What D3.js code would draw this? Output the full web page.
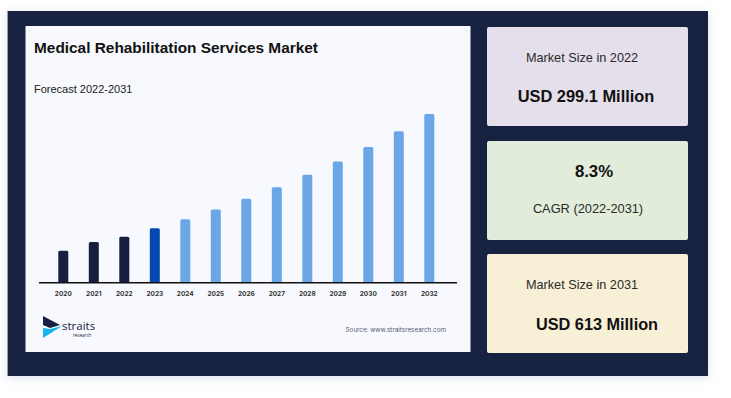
<!DOCTYPE html>
<html>
<head>
<meta charset="utf-8">
<script src="https://cdn.jsdelivr.net/npm/d3@7"></script>
<style>
  html, body { margin: 0; padding: 0; background: #ffffff; }
  svg { display: block; font-family: "Liberation Sans", Arial, sans-serif; }
</style>
</head>
<body>
<div id="chart"></div>
<script>
// values (USD million)
var years = ['2020','2021','2022','2023','2024','2025','2026','2027','2028','2029','2030','2031','2032'];
var marketSize = [257, 283, 299.1, 324, 351, 380, 412, 446, 483, 523, 566, 613, 664];
var barKind = ['hist','hist','hist','current','fc','fc','fc','fc','fc','fc','fc','fc','fc'];

var cardTitles = ['Market Size in 2022', '8.3%', 'Market Size in 2031'];
var cardValues = ['USD 299.1 Million', 'CAGR (2022-2031)', 'USD 613 Million'];

(function drawChart(){
    'use strict';
    var W = 731, H = 398;
    var colors = {hist: '#16203e', current: '#0547b1', fc: '#6ba7e6'};

    var svg = d3.select('#chart').append('svg')
        .attr('width', W).attr('height', H);

    var defs = svg.append('defs');
    var glow = defs.append('filter').attr('id', 'glow')
        .attr('x', '-5%').attr('y', '-10%').attr('width', '110%').attr('height', '120%');
    glow.append('feDropShadow').attr('dx', 0).attr('dy', 2)
        .attr('stdDeviation', 5).attr('flood-color', '#c8d2e6').attr('flood-opacity', 0.7);

    // dark frame
    svg.append('rect').attr('x', 7.5).attr('y', 11).attr('width', 700.5).attr('height', 365)
        .attr('fill', '#192341').attr('filter', 'url(#glow)');

    // chart panel
    svg.append('rect').attr('x', 25.5).attr('y', 26).attr('width', 445).attr('height', 326)
        .attr('fill', '#f8f9fe');

    svg.append('text').attr('x', 34).attr('y', 53)
        .attr('font-size', 15.4).attr('font-weight', 'bold').attr('fill', '#111')
        .text('Medical Rehabilitation Services Market');
    svg.append('text').attr('x', 34).attr('y', 93)
        .attr('font-size', 11).attr('fill', '#222')
        .text('Forecast 2022-2031');

    // bars
    var x = d3.scaleBand().domain(years).range([48.05, 444.55]).paddingInner(0.672).paddingOuter(0.336);
    var y = d3.scaleLinear().domain([162, 664]).range([282.7, 114]);

    var g = svg.append('g');
    g.selectAll('.bar').data(years).enter().append('path')
        .attr('class', 'bar')
        .attr('fill', function(d, i){ return colors[barKind[i]]; })
        .attr('d', function(d, i){
            var x0 = x(d), w = x.bandwidth(), top = y(marketSize[i]), bot = y(162), r = 1.5;
            return 'M' + x0 + ',' + bot + 'V' + (top + r) +
                'Q' + x0 + ',' + top + ' ' + (x0 + r) + ',' + top +
                'H' + (x0 + w - r) + 'Q' + (x0 + w) + ',' + top + ' ' + (x0 + w) + ',' + (top + r) +
                'V' + bot + 'Z';
        });

    var axis = svg.append('g').attr('transform', 'translate(0,282.7)')
        .call(d3.axisBottom(x).tickSize(0).tickPadding(9));
    axis.select('.domain').remove();
    axis.append('line').attr('x1', 39).attr('x2', 457).attr('stroke', '#111').attr('stroke-width', 1.5);
    axis.selectAll('text')
        .attr('font-family', 'Inter, "DejaVu Sans", sans-serif')
        .attr('font-size', 6.5).attr('font-weight', 'bold').attr('fill', '#333');

    // logo
    var logo = svg.append('g').attr('transform', 'translate(43,316)');
    logo.append('path').attr('d', 'M0,0 L17,9 L7,12 L0,9 Z').attr('fill', '#16203e');
    logo.append('path').attr('d', 'M0,22 L19,10 L7,13 L0,12 Z').attr('fill', '#19b5f0');
    logo.append('text').attr('x', 19).attr('y', 14)
        .attr('font-family', '"Open Sans", sans-serif').attr('font-size', 11.5).attr('fill', '#16203e')
        .text('straits');
    logo.append('text').attr('x', 30).attr('y', 20.5)
        .attr('font-family', '"Open Sans", sans-serif').attr('font-size', 4.5).attr('fill', '#16203e')
        .text('research');

    svg.append('text').attr('x', 446).attr('y', 331.5).attr('text-anchor', 'end')
        .attr('font-family', 'Inter, "DejaVu Sans", sans-serif')
        .attr('font-size', 6.3).attr('fill', '#555a70')
        .text('Source: www.straitsresearch.com');

    // side cards
    var cards = [
        {y: 27, fill: '#e4dfea', t1: {x: 582, y: 62, size: 12.7, bold: false}, t2: {x: 586, y: 102, size: 16.4, bold: true}},
        {y: 141, fill: '#e1ecda', t1: {x: 594, y: 177, size: 16.8, bold: true}, t2: {x: 588, y: 213, size: 12.8, bold: false}},
        {y: 254, fill: '#f7efd6', t1: {x: 582, y: 289, size: 12.7, bold: false}, t2: {x: 597, y: 330, size: 16.3, bold: true}}
    ];
    cards.forEach(function(c, i){
        svg.append('rect').attr('x', 487).attr('y', c.y).attr('width', 201).attr('height', 99)
            .attr('rx', 2).attr('fill', c.fill);
        [[c.t1, cardTitles[i]], [c.t2, cardValues[i]]].forEach(function(p){
            svg.append('text').attr('x', p[0].x).attr('y', p[0].y).attr('text-anchor', 'middle')
                .attr('font-size', p[0].size).attr('font-weight', p[0].bold ? 'bold' : 'normal')
                .attr('fill', p[0].bold ? '#111' : '#2a2a2a')
                .text(p[1]);
        });
    });
})();
</script>
</body>
</html>
